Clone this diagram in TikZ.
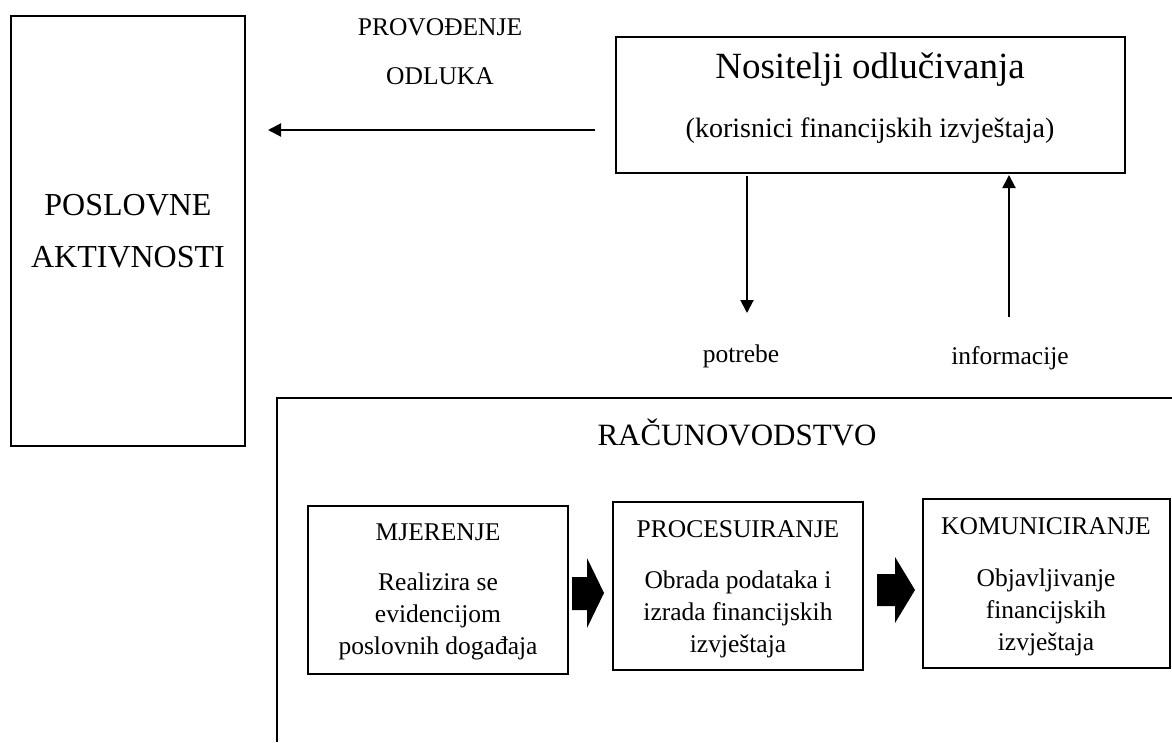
\documentclass[tikz,border=0pt]{standalone}
\usepackage{fontspec}
\setmainfont{Liberation Serif}
\usetikzlibrary{arrows.meta}
\begin{document}
\begin{tikzpicture}[x=1pt,y=-1pt,
  box/.style={draw, line width=1.1pt, inner sep=0pt},
  conn/.style={line width=2pt, -{Triangle[length=13pt,width=13pt]}},
  lbl/.style={inner sep=0pt, anchor=base, font=\fontsize{25.5}{25.5}\selectfont},
  big/.style={inner sep=0pt, anchor=base, font=\fontsize{32}{32}\selectfont},
  body/.style={inner sep=0pt, anchor=base, align=center, font=\fontsize{25.5}{32}\selectfont},
  blockarrow/.style={fill=black}]
\useasboundingbox (0,0) rectangle (1172,742);

% boxes
\node[box, minimum width=234pt, minimum height=430pt] (pos) at (128,231) {};
\node[inner sep=0pt, align=center, font=\fontsize{32}{52}\selectfont] (postxt) at (128,231) {POSLOVNE\\AKTIVNOSTI};

\node[box, minimum width=509pt, minimum height=136pt] (nos) at (870.5,105) {};
\node[inner sep=0pt, anchor=base, font=\fontsize{37}{37}\selectfont] (nost) at (870,78) {Nositelji odlučivanja};
\node[inner sep=0pt, anchor=base, font=\fontsize{28}{28}\selectfont] (nosk) at (870,137) {(korisnici financijskih izvještaja)};

% labels
\node[lbl] (prov) at (440,35) {PROVOĐENJE};
\node[lbl] (odl) at (440,84) {ODLUKA};
\node[lbl] (potr) at (741,362) {potrebe};
\node[lbl] (info) at (1010,364) {informacije};

% connectors
\coordinate (a1s) at (595,130);
\coordinate (a1e) at (268,130);
\draw[conn] (a1s) -- (a1e);
\coordinate (a2s) at (747,176);
\coordinate (a2e) at (747,313);
\draw[conn] (a2s) -- (a2e);
\coordinate (a3s) at (1009,317);
\coordinate (a3e) at (1009,175);
\draw[conn] (a3s) -- (a3e);

% accounting frame
\coordinate (rtr) at (1172,398);
\coordinate (rtl) at (277,398);
\coordinate (rbl) at (277,742);
\draw[line width=1.1pt] (rtr) -- (rtl) -- (rbl);
\node[big, font=\fontsize{31}{31}\selectfont] (rac) at (737,445) {RAČUNOVODSTVO};

% inner boxes
\node[box, minimum width=260pt, minimum height=168pt] (mj) at (438,590) {};
\node[lbl] (mjh) at (438,540) {MJERENJE};
\node[body] (mjb) at (438,654) {Realizira se\\evidencijom\\poslovnih događaja};

\node[box, minimum width=250pt, minimum height=168pt] (pr) at (738,586) {};
\node[lbl] (prh) at (738,537) {PROCESUIRANJE};
\node[body] (prb) at (738,652) {Obrada podataka i\\izrada financijskih\\izvještaja};

\node[box, minimum width=247pt, minimum height=169pt] (ko) at (1046.5,583.5) {};
\node[lbl] (koh) at (1046,534) {KOMUNICIRANJE};
\node[body] (kob) at (1046,650) {Objavljivanje\\financijskih\\izvještaja};

% block arrows
\fill[blockarrow] (572,577) -- (587,577) -- (587,558) -- (604,593) -- (587,628) -- (587,610) -- (572,610) -- cycle;
\fill[blockarrow] (877,574) -- (895,574) -- (895,557) -- (915,590) -- (895,623) -- (895,606) -- (877,606) -- cycle;
\end{tikzpicture}
\end{document}
